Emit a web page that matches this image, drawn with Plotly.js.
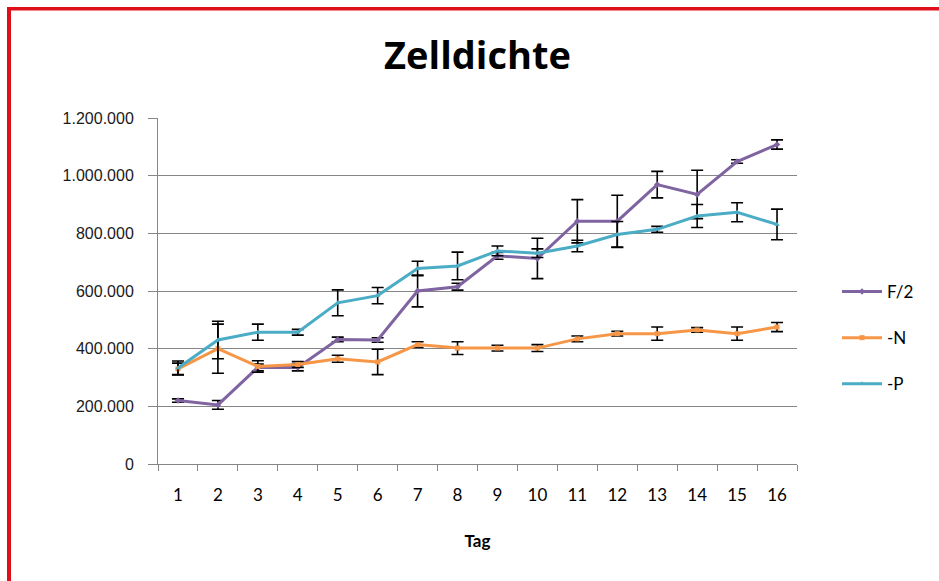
<!DOCTYPE html>
<html>
<head>
<meta charset="utf-8">
<script src="https://cdn.plot.ly/plotly-3.0.1.min.js"></script>
<style>
  html, body { margin: 0; padding: 0; background: #ffffff; }
  #chart { width: 939px; height: 581px; }
</style>
</head>
<body>
<div id="chart"></div>
<script>
const days = ['1','2','3','4','5','6','7','8','9','10','11','12','13','14','15','16'];

const f2Values = [220000, 205000, 335000, 335000, 432000, 430000, 600000, 615000, 722000, 713000, 842000, 842000, 969000, 935000, 1049000, 1108000];
const f2Errors = [6000, 15000, 12000, 12000, 8000, 8000, 55000, 12000, 12000, 70000, 75000, 90000, 46000, 84000, 6000, 16000];

const nValues = [330000, 400000, 338000, 345000, 365000, 354000, 414000, 402000, 402000, 402000, 434000, 452000, 452000, 465000, 452000, 475000];
const nErrors = [20000, 85000, 20000, 10000, 12000, 44000, 10000, 22000, 10000, 12000, 10000, 8000, 23000, 8000, 23000, 16000];

const pValues = [333000, 430000, 457000, 457000, 559000, 584000, 678000, 687000, 739000, 731000, 756000, 796000, 814000, 860000, 873000, 831000];
const pErrors = [24000, 65000, 28000, 10000, 45000, 28000, 25000, 48000, 17000, 15000, 20000, 45000, 10000, 40000, 33000, 53000];

const seriesNames = ['F/2', '-N', '-P'];
const seriesColors = ['#8064A2', '#F79646', '#4BACC6'];
const seriesSymbols = ['diamond', 'square', 'triangle-up'];
const yTicks = [0, 200000, 400000, 600000, 800000, 1000000, 1200000];

const allValues = [f2Values, nValues, pValues];
const allErrors = [f2Errors, nErrors, pErrors];

const traces = seriesNames.map((name, i) => ({
  type: 'scatter',
  mode: 'lines+markers',
  name: name,
  legendgroup: name,
  x: days,
  y: allValues[i],
  line: { color: seriesColors[i], width: 3 },
  marker: { color: seriesColors[i], size: 5, symbol: seriesSymbols[i] },
  error_y: { type: 'data', array: allErrors[i], visible: true, color: '#000000', thickness: 1.6, width: 6 }
}));

// paper coordinate helpers for the frame (plot area: x 158..797, y 118..464)
const px = v => (v - 158) / 639;
const py = v => (464 - v) / 346;

const layout = {
  width: 939,
  height: 581,
  margin: { l: 158, r: 142, t: 118, b: 117 },
  paper_bgcolor: '#ffffff',
  plot_bgcolor: '#ffffff',
  separators: ',.',
  title: {
    text: '<b>Zelldichte</b>',
    font: { family: '"Open Sans", sans-serif', size: 38, color: '#000000' },
    x: 0.5, xref: 'paper', xanchor: 'center',
    y: 1 - 56 / 581, yref: 'container', yanchor: 'middle'
  },
  xaxis: {
    type: 'category',
    range: [-0.5, 15.5],
    tickson: 'boundaries',
    ticks: 'outside',
    ticklen: 6,
    tickcolor: '#868686',
    showline: true,
    linecolor: '#868686',
    linewidth: 1,
    showgrid: false,
    tickfont: { family: 'Lato, "Open Sans", sans-serif', size: 17, color: '#000000' },
    ticklabelstandoff: 16,
    title: { text: '<b>Tag</b>', font: { family: 'Lato, "Open Sans", sans-serif', size: 17, color: '#000000' }, standoff: 30 }
  },
  yaxis: {
    range: [0, 1200000],
    tickvals: yTicks,
    tickformat: ',d',
    ticks: 'outside',
    ticklen: 9,
    tickcolor: '#868686',
    showline: true,
    linecolor: '#868686',
    linewidth: 1,
    showgrid: true,
    gridcolor: '#868686',
    gridwidth: 1,
    zeroline: false,
    tickfont: { family: '"Liberation Sans", Arial, sans-serif', size: 16, color: '#1a1a1a' },
    ticklabelstandoff: 11
  },
  showlegend: true,
  legend: {
    x: px(837), xanchor: 'left',
    y: py(274), yanchor: 'top',
    traceorder: 'grouped',
    tracegroupgap: 21,
    font: { family: 'Lato, "Open Sans", sans-serif', size: 17, color: '#000000' },
    bgcolor: 'rgba(0,0,0,0)',
    itemwidth: 40
  },
  shapes: [
    { type: 'rect', xref: 'paper', yref: 'paper', x0: px(7), x1: px(939), y0: py(7), y1: py(10.5), fillcolor: '#E0101A', line: { width: 0 } },
    { type: 'rect', xref: 'paper', yref: 'paper', x0: px(7), x1: px(11), y0: py(7), y1: py(581), fillcolor: '#E0101A', line: { width: 0 } }
  ]
};

Plotly.newPlot('chart', traces, layout, { displayModeBar: false, staticPlot: true });
</script>
</body>
</html>
